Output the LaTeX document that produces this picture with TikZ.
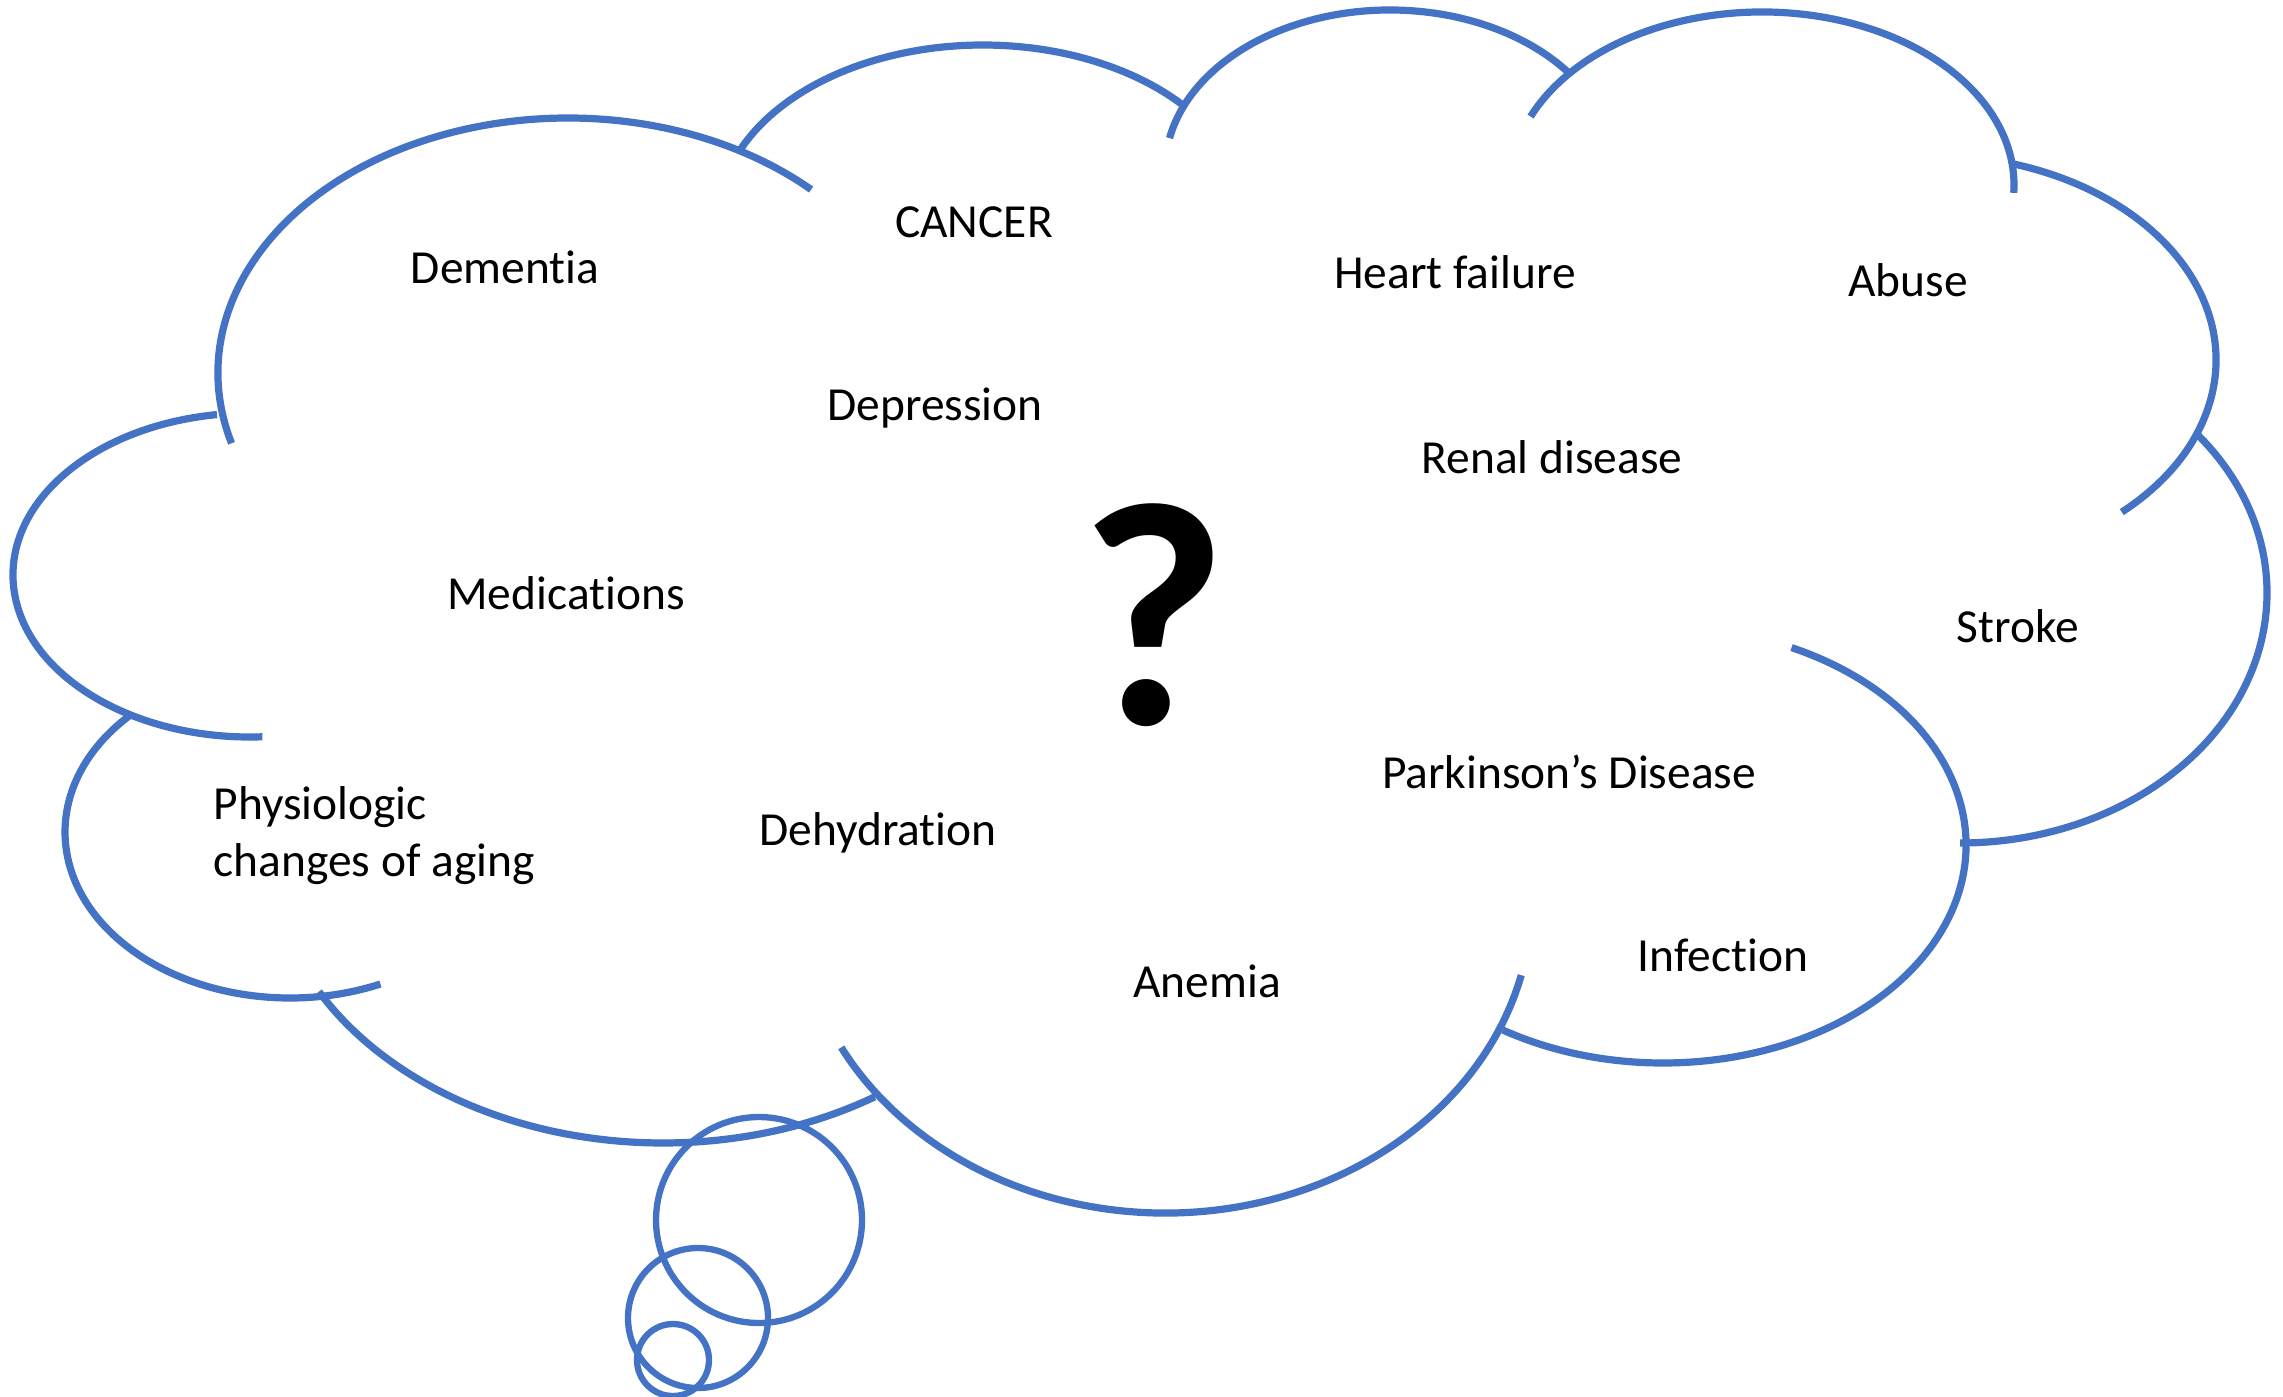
\documentclass[tikz,border=0pt]{standalone}
\usepackage{fontspec}
\setmainfont{Carlito}[Ligatures=NoCommon]
\definecolor{cloudblue}{HTML}{4472C4}
\tikzset{
  cloudline/.style={draw=cloudblue, line width=2.05pt},
  bubble/.style={draw=cloudblue, line width=1.8pt},
  lbl/.style={inner sep=0pt, anchor=base, font=\fontsize{13.5}{16}\selectfont},
}
% centre x, centre y, x radius, y radius, start angle, end angle (cm)
\newcommand{\cloudlobe}[6]{%
  \draw[cloudline] (#1,#2) ++(#5:#3 and #4) arc[start angle=#5, end angle=#6, x radius=#3, y radius=#4];}
\begin{document}
\begin{tikzpicture}[x=1cm,y=1cm]
\useasboundingbox (0,0) rectangle (22.83,-13.97);
% cloud lobes
\cloudlobe{5.68}{-3.73}{3.50}{2.55}{196}{46}
\cloudlobe{9.83}{-2.20}{2.65}{1.75}{156}{41.5}
\cloudlobe{13.90}{-1.70}{2.25}{1.60}{168.5}{36.7}
\cloudlobe{17.62}{-1.85}{2.52}{1.73}{156.7}{-2.6}
\cloudlobe{19.30}{-3.60}{2.86}{2.05}{73.7}{-47.9}
\cloudlobe{19.60}{-5.93}{3.07}{2.50}{39.9}{-90}
\cloudlobe{16.63}{-8.45}{3.03}{2.18}{64.9}{-121.9}
\cloudlobe{11.65}{-9.00}{3.67}{3.13}{-13.9}{-151.9}
\cloudlobe{6.63}{-8.50}{3.93}{2.93}{-57.4}{-151.1}
\cloudlobe{2.90}{-8.32}{2.25}{1.66}{134.6}{293.7}
\cloudlobe{2.50}{-5.75}{2.37}{1.62}{98}{273}
% thought bubbles
\draw[bubble] (7.59,-12.20) circle[radius=1.03];
\draw[bubble] (6.98,-13.18) circle[radius=0.70];
\draw[bubble] (6.73,-13.60) circle[radius=0.36];
% labels
\node[lbl] (dementia) at (5.05,-2.83) {Dementia};
\node[lbl] (cancer) at (9.74,-2.37) {CANCER};
\node[lbl] (heart) at (14.55,-2.88) {Heart failure};
\node[lbl] (abuse) at (19.08,-2.96) {Abuse};
\node[lbl] (depression) at (9.35,-4.20) {Depression};
\node[lbl] (renal) at (15.52,-4.73) {Renal disease};
\node[lbl] (medications) at (5.66,-6.09) {Medications};
\node[lbl] (stroke) at (20.18,-6.42) {Stroke};
\node[lbl] (parkinson) at (15.69,-7.88) {Parkinson’s Disease};
\node[lbl, anchor=base west] (physio1) at (2.13,-8.19) {Physiologic};
\node[lbl, anchor=base west] (physio2) at (2.13,-8.76) {changes of aging};
\node[lbl] (dehydration) at (8.78,-8.45) {Dehydration};
\node[lbl] (infection) at (17.23,-9.71) {Infection};
\node[lbl] (anemia) at (12.07,-9.97) {Anemia};
\node[inner sep=0pt, anchor=base, font=\fontsize{91}{95}\selectfont\bfseries] (question) at (11.54,-7.24) {?};
\end{tikzpicture}
\end{document}
